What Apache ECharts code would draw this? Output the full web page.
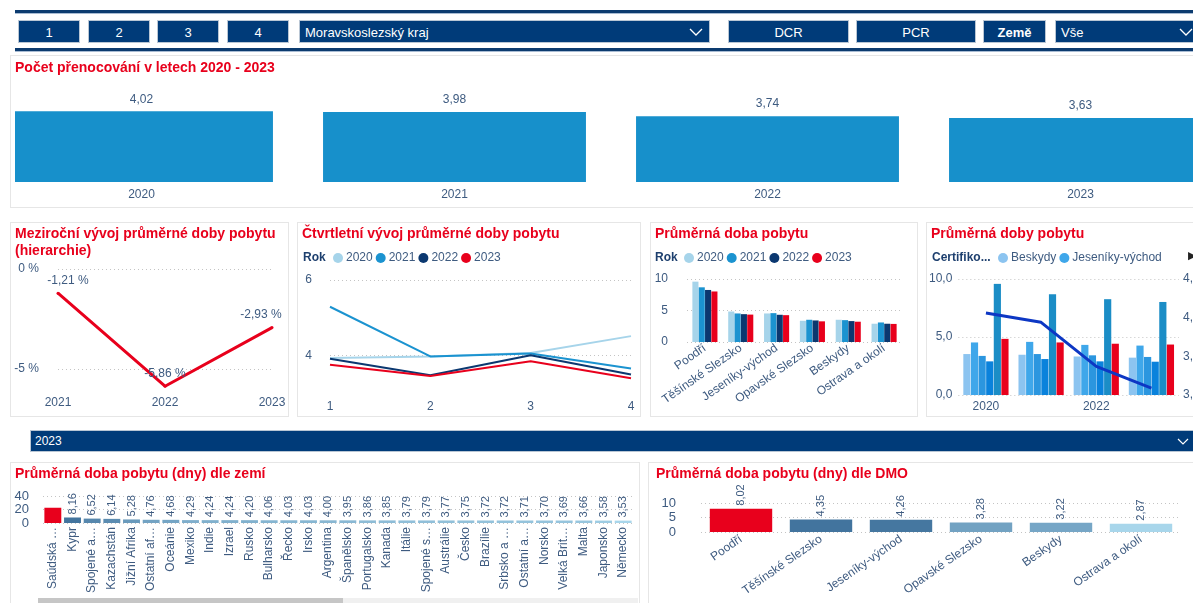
<!DOCTYPE html>
<html>
<head>
<meta charset="utf-8">
<script src="https://cdn.jsdelivr.net/npm/echarts@6.0.0/dist/echarts.min.js"></script>
<style>
  body { margin: 0; width: 1193px; height: 603px; overflow: hidden; background: #fff; font-family: "Liberation Sans", Arial, sans-serif; position: relative; }
  .abs { position: absolute; }
  .rule { position: absolute; left: 15px; width: 1200px; height: 3px; background: #0c3b6f; border-bottom: 1px solid #a9bcd3; }
  .btn { position: absolute; top: 20px; height: 23px; background: #003b79; border: 1px solid #b9c6d4; color: #fff; font-size: 13px; line-height: 23px; text-align: center; box-sizing: border-box; }
  .panel { position: absolute; border: 1px solid #e6e6e6; box-sizing: border-box; background: #fff; }
  .chev { position: absolute; top: 7px; }
</style>
</head>
<body>
<div class="rule" style="top:10px"></div>
<div class="rule" style="top:48px"></div>

<div class="btn" style="left:18px;width:62px">1</div>
<div class="btn" style="left:88px;width:62px">2</div>
<div class="btn" style="left:157px;width:62px">3</div>
<div class="btn" style="left:227px;width:62px">4</div>
<div class="btn" style="left:299px;width:411px;text-align:left;padding-left:5px">Moravskoslezský kraj
  <svg class="chev" style="right:6px" width="14" height="9"><polyline points="1,1 7,7 13,1" fill="none" stroke="#fff" stroke-width="1.3"/></svg></div>
<div class="btn" style="left:728px;width:121px">DCR</div>
<div class="btn" style="left:856px;width:120px">PCR</div>
<div class="btn" style="left:983px;width:63px;font-weight:bold">Země</div>
<div class="btn" style="left:1055px;width:150px;text-align:left;padding-left:5px">Vše
  <svg class="chev" style="left:123px" width="14" height="9"><polyline points="1,1 7,7 13,1" fill="none" stroke="#fff" stroke-width="1.3"/></svg></div>

<div class="panel" style="left:10px;top:55px;width:1190px;height:153px"></div>
<div class="abs" style="left:15px;top:56px;width:1178px;height:150px;overflow:hidden">
  <div id="cTotal" class="abs" style="left:-30px;top:0;width:1300px;height:150px"></div>
</div>

<div class="panel" style="left:10px;top:222px;width:279px;height:195px"></div>
<div id="cYoy" class="abs" style="left:10px;top:222px;width:279px;height:195px"></div>
<div class="panel" style="left:297px;top:222px;width:344px;height:195px"></div>
<div id="cQuarter" class="abs" style="left:297px;top:222px;width:344px;height:195px"></div>
<div class="panel" style="left:650px;top:222px;width:268px;height:195px"></div>
<div id="cDmoYears" class="abs" style="left:650px;top:222px;width:268px;height:195px"></div>
<div class="panel" style="left:926px;top:222px;width:280px;height:195px"></div>
<div id="cCert" class="abs" style="left:926px;top:222px;width:300px;height:195px"></div>

<div class="abs" style="left:30px;top:430px;width:1175px;height:22px;background:#003b79;border:1px solid #b9c6d4;box-sizing:border-box;color:#fff;font-family:'Liberation Sans Narrow','Liberation Sans',sans-serif;font-size:12px;line-height:20px;padding-left:4px">2023
  <svg class="abs" style="left:1146px;top:7px" width="12" height="8"><polyline points="1,1 6,6 11,1" fill="none" stroke="#fff" stroke-width="1.2"/></svg></div>

<div class="panel" style="left:10px;top:462px;width:630px;height:150px"></div>
<div id="cCountry" class="abs" style="left:10px;top:462px;width:630px;height:141px"></div>
<div class="abs" style="left:38px;top:598px;width:600px;height:5px;background:#f0f0f0"></div>
<div class="abs" style="left:38px;top:598px;width:305px;height:5px;background:#c6c6c6"></div>
<div class="panel" style="left:648px;top:462px;width:560px;height:150px"></div>
<div id="cDmo" class="abs" style="left:648px;top:462px;width:545px;height:141px"></div>

<script>
// data
const years = ['2020', '2021', '2022', '2023']
const nightsByYear = [4.02, 3.98, 3.74, 3.63]

const yoyYears = ['2021', '2022', '2023']
const yoyChange = [-1.21, -5.86, -2.93]

const quarters = ['1', '2', '3', '4']
const q2020 = [3.93, 3.97, 4.06, 4.51]
const q2021 = [5.29, 3.97, 4.05, 3.65]
const q2022 = [3.91, 3.47, 4.00, 3.49]
const q2023 = [3.75, 3.45, 3.84, 3.39]

const dmoNames = ['Poodří', 'Těšínské Slezsko', 'Jeseníky-východ', 'Opavské Slezsko', 'Beskydy', 'Ostrava a okolí']
const dmo2020 = [9.58, 4.84, 4.53, 3.37, 3.53, 2.90]
const dmo2021 = [8.68, 4.53, 4.58, 3.53, 3.47, 3.10]
const dmo2022 = [8.26, 4.42, 4.32, 3.42, 3.32, 2.90]
const dmo2023 = [8.02, 4.35, 4.26, 3.28, 3.22, 2.87]

const certOrder = ['Beskydy', 'Jeseníky-východ', 'Opavské Slezsko', 'Ostrava a okolí', 'Poodří', 'Těšínské Slezsko']
const certLine = [4.06, 3.94, 3.37, 3.09]

const countries = ['Saúdská …', 'Kypr', 'Spojené a…', 'Kazachstán', 'Jižní Afrika', 'Ostatní af…', 'Oceánie', 'Mexiko',
  'Indie', 'Izrael', 'Rusko', 'Bulharsko', 'Řecko', 'Irsko', 'Argentina', 'Španělsko', 'Portugalsko', 'Kanada', 'Itálie',
  'Spojené s…', 'Austrálie', 'Česko', 'Brazílie', 'Srbsko a …', 'Ostatní a…', 'Norsko', 'Velká Brit…', 'Malta', 'Japonsko', 'Německo']
const countryValues = [22.6, 8.16, 6.52, 6.14, 5.28, 4.76, 4.68, 4.29, 4.24, 4.24, 4.20, 4.06, 4.03, 4.03, 4.00, 3.95,
  3.86, 3.85, 3.79, 3.79, 3.77, 3.75, 3.72, 3.72, 3.71, 3.70, 3.69, 3.66, 3.58, 3.53]

// styles
const FONT = '"Liberation Sans", Arial, sans-serif'
const RED = '#e8001c'
const TXT = '#3e5b80'
const yearColors = ['#a6d4ea', '#1b93d0', '#0b3870', RED]
const certColors = ['#8cc4f0', '#3fa7ea', '#2b96df', '#0a82dc', '#1b8dc6', RED]
const dotted = { show: true, lineStyle: { type: [1, 3], color: '#c4c4c4' } }
const fmt = (v, d) => v.toFixed(d).replace('.', ',')

function titleOf(text, left) {
  return { text, left: left || 5, top: 4, padding: 0,
    textStyle: { color: RED, fontSize: 14, fontWeight: 'bold', fontFamily: FONT, lineHeight: 17 } }
}
function axisText(size) {
  return { color: TXT, fontSize: size || 12, fontFamily: FONT }
}
function legendOf(names, left, colors) {
  return {
    left, top: 30, padding: 0, icon: 'circle', itemWidth: 10, itemHeight: 10, itemGap: 3,
    data: names.map((n, i) => ({ name: n, itemStyle: colors ? { color: colors[i] } : undefined })),
    textStyle: { color: TXT, fontSize: 12, fontFamily: FONT, padding: [0, 0, 0, -2] }
  }
}
function boldLabel(text, left) {
  return { type: 'text', left, top: 30, style: { text, fill: '#1d3f6e', font: 'bold 12px ' + FONT } }
}
function shade(v, lo, hi) {
  const t = Math.sqrt(Math.max(0, Math.min(1, (v - lo) / (hi - lo))))
  const a = [168, 214, 235]
  const b = [66, 116, 158]
  return 'rgb(' + a.map((c, i) => Math.round(c + (b[i] - c) * t)).join(',') + ')'
}
function shadedData(values) {
  const sorted = values.slice().sort((x, y) => y - x)
  const hi = sorted[1]
  const lo = sorted[sorted.length - 1]
  return values.map(v => ({ value: v, itemStyle: { color: v === sorted[0] ? RED : shade(v, lo, hi) } }))
}

// 1. total by year
echarts.init(document.getElementById('cTotal')).setOption({
  animation: false,
  title: titleOf('Počet přenocování v letech 2020 - 2023', 30),
  grid: { left: 0, width: 1252, top: 38, height: 88 },
  xAxis: { type: 'category', data: years, axisLine: { show: false }, axisTick: { show: false },
    axisLabel: Object.assign({ margin: 7 }, axisText(12)) },
  yAxis: { type: 'value', min: 0, max: 5, show: false },
  series: [{ type: 'bar', data: nightsByYear, barCategoryGap: '16%', itemStyle: { color: '#1790cb' },
    label: Object.assign({ show: true, position: 'top', distance: 6, formatter: p => fmt(p.value, 2) }, axisText(12)) }]
})

// 2. year-over-year change
// first/last labels are nudged inwards so they stay inside the card
const yoyLabelShift = [10, 0, -11]
echarts.init(document.getElementById('cYoy')).setOption({
  animation: false,
  title: titleOf('Meziroční vývoj průměrné doby pobytu\n(hierarchie)'),
  grid: { left: 48, right: 17, top: 47, bottom: 26 },
  xAxis: { type: 'category', data: yoyYears, boundaryGap: false, axisLine: { show: false }, axisTick: { show: false },
    axisLabel: Object.assign({ margin: 6 }, axisText(12)) },
  yAxis: { type: 'value', min: -6.1, max: 0, axisLine: { show: false },
    axisTick: { show: false, customValues: [-5, 0] },
    axisLabel: Object.assign({ customValues: [-5, 0], margin: 19, formatter: v => v + ' %' }, axisText(12)),
    splitLine: dotted },
  series: [{ type: 'line', symbol: 'circle', symbolSize: 3, showSymbol: true,
    data: yoyChange.map((v, i) => ({ value: v, label: { offset: [yoyLabelShift[i], 0] } })),
    itemStyle: { color: RED }, lineStyle: { color: RED, width: 3 },
    label: Object.assign({ show: true, position: 'top', distance: 5, formatter: p => fmt(p.value, 2) + ' %' }, axisText(12)) }]
})

// 3. quarterly development
const qSeries = [q2020, q2021, q2022, q2023]
echarts.init(document.getElementById('cQuarter')).setOption({
  animation: false,
  title: titleOf('Čtvrtletní vývoj průměrné doby pobytu'),
  legend: legendOf(years, 36),
  graphic: [boldLabel('Rok', 6)],
  grid: { left: 33, right: 10, top: 58, bottom: 24 },
  xAxis: { type: 'category', data: quarters, boundaryGap: false, axisLine: { show: false }, axisTick: { show: false },
    axisLabel: Object.assign({ margin: 8 }, axisText(12)) },
  yAxis: { type: 'value', min: 3, max: 6, axisLine: { show: false },
    axisTick: { show: false, customValues: [4, 6] },
    axisLabel: Object.assign({ customValues: [4, 6], margin: 18 }, axisText(12)),
    splitLine: dotted },
  series: qSeries.map((d, i) => ({ type: 'line', name: years[i], data: d, symbol: 'none',
    itemStyle: { color: yearColors[i] }, lineStyle: { color: yearColors[i], width: 2 } }))
})

// 4. average stay by DMO and year
const dmoSeries = [dmo2020, dmo2021, dmo2022, dmo2023]
echarts.init(document.getElementById('cDmoYears')).setOption({
  animation: false,
  title: titleOf('Průměrná doba pobytu'),
  legend: legendOf(years, 34),
  graphic: [boldLabel('Rok', 5)],
  grid: { left: 37, right: 16, top: 57, bottom: 75 },
  xAxis: { type: 'category', data: dmoNames, axisLine: { show: false }, axisTick: { show: false },
    axisLabel: Object.assign({ rotate: 35, interval: 0, margin: 5 }, axisText(12)) },
  yAxis: { type: 'value', min: 0, max: 10, interval: 5, axisLine: { show: false }, axisTick: { show: false },
    axisLabel: Object.assign({ margin: 19 }, axisText(12)), splitLine: dotted },
  series: dmoSeries.map((d, i) => ({ type: 'bar', name: years[i], data: d, barGap: '4%', barCategoryGap: '30%',
    itemStyle: { color: yearColors[i] } }))
})

// 5. DMO by year with line
const certBars = certOrder.map(name => {
  const k = dmoNames.indexOf(name)
  return dmoSeries.map(d => d[k])
})
echarts.init(document.getElementById('cCert')).setOption({
  animation: false,
  title: titleOf('Průměrná doby pobytu'),
  legend: legendOf(certOrder.slice(0, 2), 72, certColors),
  graphic: [boldLabel('Certifiko...', 6),
    { type: 'text', left: 262, top: 29, style: { text: '▶', fill: '#222', font: '11px "DejaVu Sans"' } }],
  grid: { left: 30, width: 223, top: 57, bottom: 22 },
  xAxis: { type: 'category', data: years, axisLine: { show: false }, axisTick: { show: false },
    axisLabel: Object.assign({ interval: 1, margin: 6 }, axisText(12)) },
  yAxis: [
    { type: 'value', min: 0, max: 10, interval: 5, axisLine: { show: false }, axisTick: { show: false },
      axisLabel: Object.assign({ margin: 6, formatter: v => fmt(v, 1) }, axisText(12)), splitLine: dotted },
    { type: 'value', min: 3, max: 4.5, interval: 0.5, axisLine: { show: false }, axisTick: { show: false },
      axisLabel: Object.assign({ margin: 4, formatter: v => fmt(v, 1) }, axisText(12)), splitLine: { show: false } }
  ],
  series: certBars.map((d, i) => ({ type: 'bar', name: certOrder[i], data: d, barGap: '6%', barCategoryGap: '18%',
    itemStyle: { color: certColors[i] } })).concat([
    { type: 'line', name: 'průměr', data: certLine, yAxisIndex: 1, symbol: 'none', z: 5,
      lineStyle: { color: '#0d37c4', width: 3 } }
  ])
})

// 6. by country
echarts.init(document.getElementById('cCountry')).setOption({
  animation: false,
  title: titleOf('Průměrná doba pobytu (dny) dle zemí'),
  grid: { left: 33, right: 7, top: 34, bottom: 80 },
  xAxis: { type: 'category', data: countries, axisLine: { show: false }, axisTick: { show: false },
    axisLabel: Object.assign({ rotate: 90, interval: 0, margin: 4 }, axisText(12)) },
  yAxis: { type: 'value', min: 0, max: 40, interval: 20, axisLine: { show: false }, axisTick: { show: false },
    axisLabel: Object.assign({ margin: 14 }, axisText(13)), splitLine: dotted },
  series: [{ type: 'bar', barCategoryGap: '14%',
    data: shadedData(countryValues).map((d, i) => i === 0 ? Object.assign(d, { label: { show: false } }) : d),
    label: Object.assign({ show: true, position: 'top', rotate: 90, align: 'left', verticalAlign: 'middle', distance: 3,
      formatter: p => fmt(p.value, 2) }, axisText(11)) }]
})

// 7. by DMO, 2023
echarts.init(document.getElementById('cDmo')).setOption({
  animation: false,
  title: titleOf('Průměrná doba pobytu (dny) dle DMO', 8),
  grid: { left: 53, right: 12, top: 41, bottom: 71 },
  xAxis: { type: 'category', data: dmoNames, axisLine: { show: false }, axisTick: { show: false },
    axisLabel: Object.assign({ rotate: 35, interval: 0, margin: 6 }, axisText(12)) },
  yAxis: { type: 'value', min: 0, max: 10, interval: 5, axisLine: { show: false }, axisTick: { show: false },
    axisLabel: Object.assign({ margin: 25 }, axisText(13)), splitLine: dotted },
  series: [{ type: 'bar', barCategoryGap: '22%', data: shadedData(dmo2023),
    label: Object.assign({ show: true, position: 'top', rotate: 90, align: 'left', verticalAlign: 'middle', distance: 3,
      formatter: p => fmt(p.value, 2) }, axisText(11)) }]
})
</script>
</body>
</html>
